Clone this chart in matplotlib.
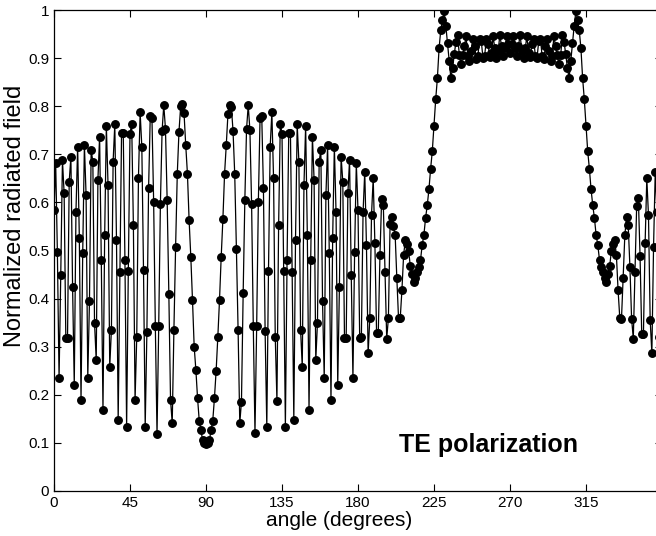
import numpy as np
import matplotlib
matplotlib.use("Agg")
from matplotlib import pyplot as plt

plt.rcParams['font.family'] = ['Liberation Sans', 'DejaVu Sans']

# normalized field, one value per degree
field_0_90 = [0.584, 0.681, 0.497, 0.235, 0.449, 0.688, 0.619, 0.318, 0.318, 0.643,
              0.695, 0.425, 0.220, 0.580, 0.716, 0.526, 0.189, 0.494, 0.719, 0.615,
              0.235, 0.394, 0.709, 0.685, 0.349, 0.272, 0.647, 0.737, 0.480, 0.168,
              0.532, 0.759, 0.636, 0.258, 0.335, 0.685, 0.762, 0.522, 0.148, 0.456,
              0.744, 0.745, 0.480, 0.134, 0.458, 0.743, 0.764, 0.553, 0.189, 0.321,
              0.651, 0.787, 0.716, 0.459, 0.134, 0.331, 0.629, 0.780, 0.775, 0.601,
              0.343, 0.118, 0.343, 0.597, 0.749, 0.802, 0.753, 0.605, 0.410, 0.189,
              0.141, 0.335, 0.507, 0.660, 0.747, 0.800, 0.805, 0.785, 0.719, 0.660,
              0.563, 0.487, 0.397, 0.300, 0.252, 0.193, 0.146, 0.127, 0.105, 0.100,
              0.098]
field_91_180 = [0.100, 0.105, 0.127, 0.146, 0.193, 0.250, 0.320, 0.397, 0.487,
                0.565, 0.660, 0.719, 0.784, 0.802, 0.799, 0.749, 0.660, 0.504, 0.335,
                0.141, 0.186, 0.411, 0.605, 0.752, 0.802, 0.750, 0.597, 0.343, 0.120,
                0.343, 0.601, 0.775, 0.780, 0.629, 0.333, 0.134, 0.458, 0.716, 0.787,
                0.650, 0.321, 0.188, 0.553, 0.764, 0.743, 0.458, 0.134, 0.480, 0.745,
                0.744, 0.456, 0.148, 0.522, 0.762, 0.685, 0.335, 0.258, 0.636, 0.759,
                0.532, 0.168, 0.480, 0.737, 0.647, 0.272, 0.349, 0.685, 0.709, 0.394,
                0.235, 0.615, 0.719, 0.494, 0.189, 0.526, 0.716, 0.580, 0.220, 0.425,
                0.695, 0.643, 0.318, 0.318, 0.619, 0.688, 0.449, 0.235, 0.497, 0.681,
                0.584]
field_181_270 = [0.318, 0.320, 0.580, 0.664, 0.511, 0.286, 0.359, 0.574, 0.650,
                 0.515, 0.328, 0.328, 0.490, 0.608, 0.594, 0.456, 0.317, 0.359, 0.556,
                 0.570, 0.550, 0.532, 0.442, 0.359, 0.359, 0.417, 0.490, 0.521, 0.513,
                 0.498, 0.467, 0.452, 0.435, 0.442, 0.456, 0.465, 0.480, 0.511, 0.532,
                 0.567, 0.594, 0.627, 0.670, 0.707, 0.759, 0.814, 0.858, 0.920, 0.958,
                 0.979, 0.997, 0.967, 0.931, 0.894, 0.858, 0.879, 0.908, 0.934, 0.947,
                 0.906, 0.887, 0.906, 0.925, 0.945, 0.905, 0.895, 0.915, 0.940, 0.925,
                 0.898, 0.905, 0.940, 0.935, 0.900, 0.905, 0.940, 0.930, 0.902, 0.910,
                 0.945, 0.920, 0.900, 0.915, 0.948, 0.925, 0.905, 0.920, 0.945, 0.930,
                 0.910]
field_271_359 = [0.930, 0.945, 0.920, 0.905, 0.925, 0.948, 0.915, 0.900, 0.920,
                 0.945, 0.910, 0.902, 0.930, 0.940, 0.905, 0.900, 0.935, 0.940, 0.905,
                 0.898, 0.925, 0.940, 0.915, 0.895, 0.905, 0.945, 0.925, 0.906, 0.887,
                 0.906, 0.947, 0.934, 0.908, 0.879, 0.858, 0.894, 0.931, 0.967, 0.997,
                 0.979, 0.958, 0.920, 0.858, 0.814, 0.759, 0.707, 0.670, 0.627, 0.594,
                 0.567, 0.532, 0.511, 0.480, 0.465, 0.456, 0.442, 0.435, 0.452, 0.467,
                 0.498, 0.513, 0.521, 0.490, 0.417, 0.360, 0.357, 0.442, 0.532, 0.569,
                 0.553, 0.466, 0.358, 0.317, 0.456, 0.593, 0.609, 0.489, 0.326, 0.326,
                 0.515, 0.650, 0.573, 0.355, 0.286, 0.508, 0.664, 0.580, 0.320, 0.318]

field = np.array(field_0_90 + field_91_180 + field_181_270 + field_271_359)
angle = np.arange(len(field))

xticks = [0, 45, 90, 135, 180, 225, 270, 315]
yticks = np.arange(0, 1.01, 0.1)
ylabels = ['0', '0.1', '0.2', '0.3', '0.4', '0.5', '0.6', '0.7', '0.8', '0.9', '1']

fig = plt.figure(figsize=(6.56, 5.36), dpi=100)
ax = fig.add_axes([54/656, 45/536, 608/656, 481/536])

ax.plot(angle, field, '-', color='black', lw=0.9)
ax.plot(angle, field, 'o', color='black', ms=5.4)

ax.set_xlim(0, 360)
ax.set_ylim(0, 1)
ax.set_xticks(xticks)
ax.set_yticks(yticks)
ax.set_yticklabels(ylabels)
ax.tick_params(direction='in', top=True, right=True, labelsize=11, length=5, width=0.8)
for s in ax.spines.values():
    s.set_linewidth(0.9)

fig.text(339/656, 1 - 521/536, 'angle (degrees)', fontsize=15, ha='center', va='center')
fig.text(15/656, 1 - 216/536, 'Normalized radiated field', fontsize=17,
         rotation=90, ha='center', va='center')
ax.text(204, 0.096, 'TE polarization', fontsize=18, fontweight='bold',
        ha='left', va='center')

fig.savefig('out.png', dpi=100)
